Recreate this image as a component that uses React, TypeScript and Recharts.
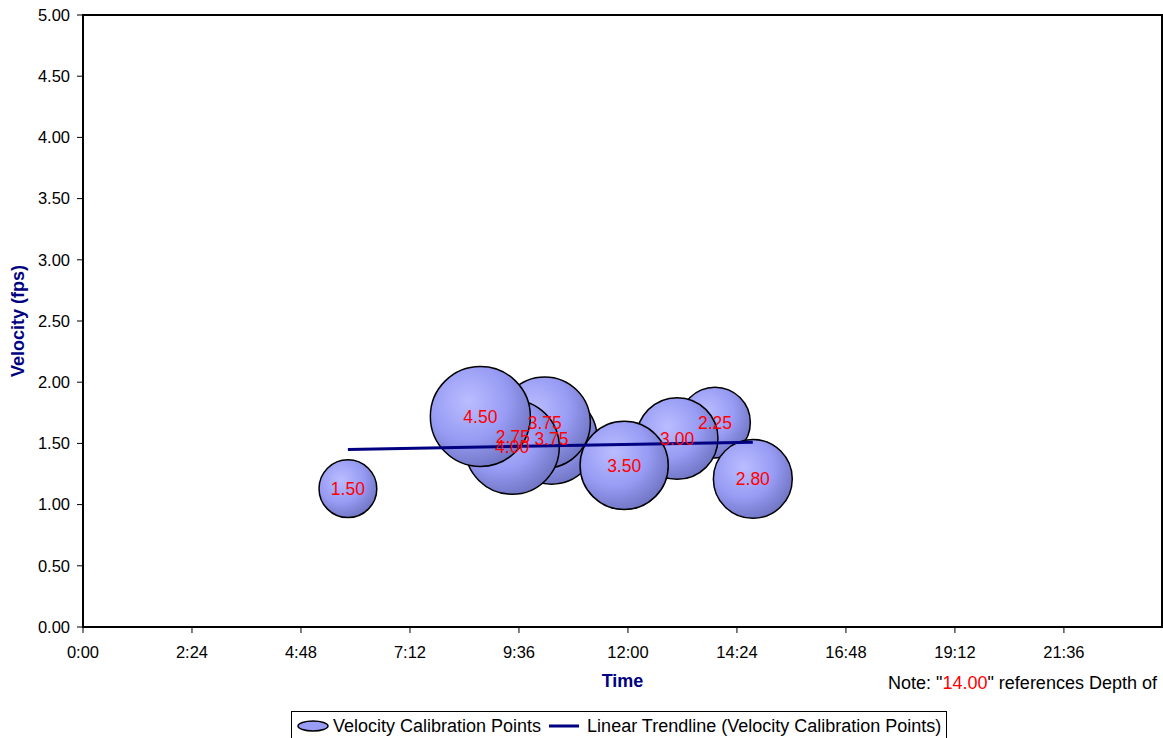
import { ScatterChart, Scatter, XAxis, YAxis, ReferenceArea, LabelList, Label, Legend } from "recharts";

// bubble data, listed in the order Excel stacks them (later = on top)
const timeLabels = ["9:28", "10:19", "10:10", "9:27", "8:45", "13:55", "13:05", "11:55", "14:45", "5:50"];
const velocities = [1.55, 1.54, 1.67, 1.47, 1.72, 1.67, 1.54, 1.32, 1.21, 1.13];
const depths = [2.75, 3.75, 3.75, 4.0, 4.5, 2.25, 3.0, 3.5, 2.8, 1.5];

// linear trendline end points
const trendTimes = ["5:50", "14:45"];
const trendValues = [1.45, 1.51];

const xTickMinutes = [0, 144, 288, 432, 576, 720, 864, 1008, 1152, 1296];
const xTickLabels = ["0:00", "2:24", "4:48", "7:12", "9:36", "12:00", "14:24", "16:48", "19:12", "21:36"];
const yTicks = [0, 0.5, 1, 1.5, 2, 2.5, 3, 3.5, 4, 4.5, 5];

const X_MAX = 1425.6; // 0.99 day in minutes
const MAX_R = 50;
const MAX_DEPTH = 4.5;
const FONT = 'Arial, "Liberation Sans", sans-serif';
const NAVY = "#000080";

const toMinutes = (s: string) => {
  const [h, m] = s.split(":").map(Number);
  return h * 60 + m;
};

const bubbles = timeLabels.map((t, i) => ({
  time: toMinutes(t),
  velocity: velocities[i],
  depth: depths[i],
}));

const trend = trendTimes.map((t, i) => ({ time: toMinutes(t), velocity: trendValues[i] }));

function Bubble(props: any) {
  const { cx, cy, payload, index } = props;
  if (cx == null || cy == null) return <g />;
  const r = MAX_R * Math.sqrt(payload.depth / MAX_DEPTH);
  const id = `bub-grad-${index}`;
  return (
    <g>
      <defs>
        <radialGradient id={id} cx="38%" cy="35%" r="70%">
          <stop offset="0%" stopColor="#babdff" />
          <stop offset="55%" stopColor="#989cf4" />
          <stop offset="100%" stopColor="#6f73c2" />
        </radialGradient>
      </defs>
      <circle cx={cx} cy={cy} r={r} fill={`url(#${id})`} stroke="#000" strokeWidth={1.5} />
    </g>
  );
}

function LegendBox() {
  return (
    <div
      style={{
        boxSizing: "border-box",
        width: 656,
        height: 30,
        border: "1px solid #000",
        background: "#fff",
        display: "flex",
        alignItems: "flex-start",
        paddingTop: 4,
        paddingLeft: 5,
        fontFamily: FONT,
        fontSize: 18,
        color: "#000",
        whiteSpace: "nowrap",
      }}
    >
      <svg width={32} height={14} style={{ marginTop: 4 }}>
        <ellipse cx={16} cy={6} rx={15} ry={5} fill="#9a9df5" stroke="#000" strokeWidth={1.5} />
      </svg>
      <span style={{ marginLeft: 4, lineHeight: "20px" }}>Velocity Calibration Points</span>
      <svg width={32} height={14} style={{ marginLeft: 8, marginTop: 4 }}>
        <line x1={0} y1={6} x2={30} y2={6} stroke={NAVY} strokeWidth={3} />
      </svg>
      <span style={{ marginLeft: 6, lineHeight: "20px" }}>Linear Trendline (Velocity Calibration Points)</span>
    </div>
  );
}

export default function App() {
  return (
    <div
      style={{ position: "absolute", left: 0, top: 0, width: 1163, height: 738, overflow: "hidden", background: "#fff" }}
    >
      <ScatterChart
        width={1163}
        height={738}
        margin={{ top: 15, right: 1, bottom: 0, left: 0 }}
        style={{ fontFamily: FONT }}
      >
        <XAxis
          type="number"
          dataKey="time"
          domain={[0, X_MAX]}
          ticks={xTickMinutes}
          tickFormatter={(v: number) => xTickLabels[xTickMinutes.indexOf(v)] ?? ""}
          height={81}
          tickSize={6}
          tickMargin={13}
          allowDataOverflow
          axisLine={{ stroke: "#000", strokeWidth: 2 }}
          tickLine={{ stroke: "#000" }}
          tick={{ fill: "#000", fontSize: 16.5, fontFamily: FONT }}
        >
          <Label
            value="Time"
            position="insideTop"
            offset={47}
            style={{ fill: NAVY, fontWeight: "bold", fontSize: 18, fontFamily: FONT }}
          />
          <Label
            content={({ viewBox }: any) => {
              const x = viewBox.x + viewBox.width - 274;
              const y = viewBox.y + 62;
              return (
                <text x={x} y={y} fontSize={18} fontFamily={FONT} fill="#000">
                  Note: "<tspan fill="#ff0000">14.00</tspan>" references Depth of
                </text>
              );
            }}
          />
        </XAxis>
        <YAxis
          type="number"
          dataKey="velocity"
          domain={[0, 5]}
          ticks={yTicks}
          tickFormatter={(v: number) => v.toFixed(2)}
          width={83}
          tickSize={6}
          tickMargin={7}
          axisLine={{ stroke: "#000", strokeWidth: 2 }}
          tickLine={{ stroke: "#000" }}
          tick={{ fill: "#000", fontSize: 16.5, fontFamily: FONT }}
        >
          <Label
            content={({ viewBox }: any) => {
              const cx = viewBox.x + 18;
              const cy = viewBox.y + viewBox.height / 2;
              return (
                <text
                  x={cx}
                  y={cy}
                  transform={`rotate(-90 ${cx} ${cy})`}
                  textAnchor="middle"
                  dominantBaseline="central"
                  fontSize={18}
                  fontWeight="bold"
                  fontFamily={FONT}
                  fill={NAVY}
                >
                  Velocity (fps)
                </text>
              );
            }}
          />
        </YAxis>
        <ReferenceArea
          x1={0}
          x2={X_MAX}
          y1={0}
          y2={5}
          fill="none"
          stroke="#000"
          strokeWidth={2}
          ifOverflow="visible"
        />
        <Scatter
          name="Velocity Calibration Points"
          data={bubbles}
          fill="#9a9df5"
          shape={Bubble}
          isAnimationActive={false}
        >
          <LabelList
            dataKey="depth"
            position="center"
            formatter={(v: any) => Number(v).toFixed(2)}
            style={{ fill: "#ff0000", fontSize: 17.5, fontFamily: FONT }}
          />
        </Scatter>
        <Scatter
          name="Linear Trendline (Velocity Calibration Points)"
          data={trend}
          fill={NAVY}
          line={{ stroke: NAVY, strokeWidth: 3 }}
          shape={() => <g />}
          isAnimationActive={false}
        />
        <Legend
          verticalAlign="bottom"
          content={() => <LegendBox />}
          wrapperStyle={{ position: "absolute", left: 291, top: 711, width: 656, height: 30 }}
        />
      </ScatterChart>
    </div>
  );
}
